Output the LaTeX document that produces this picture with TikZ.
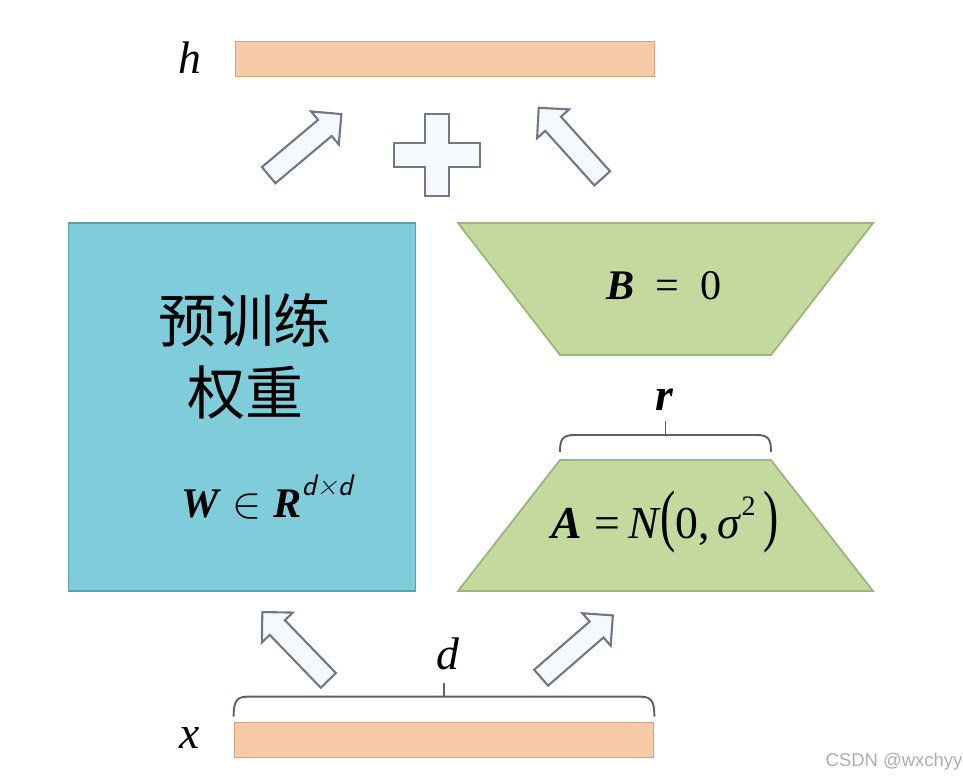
\documentclass[tikz,border=0pt]{standalone}
\usepackage{fontspec}
\setmainfont{Liberation Serif}
\newfontfamily\cjk{Noto Sans CJK SC}
\newfontfamily\wmfont{Liberation Sans}
\usepackage{amsmath}
\usetikzlibrary{positioning,calc,shapes.geometric,shapes.arrows}

\definecolor{peach}{HTML}{F8CBA8}
\definecolor{peachline}{HTML}{D6A07C}
\definecolor{pretrain}{HTML}{7FCCDB}
\definecolor{pretrainline}{HTML}{5C9FAE}
\definecolor{lora}{HTML}{C4D99E}
\definecolor{loraline}{HTML}{9BB47A}
\definecolor{arrowline}{HTML}{6E7888}
\definecolor{arrowfill}{HTML}{F6F9FC}

\begin{document}
\begin{tikzpicture}[
  x=0.02cm, y=-0.02cm,
  bar/.style={rectangle,draw=peachline,fill=peach,line width=1pt,
    minimum width=8.38cm,minimum height=0.7cm,inner sep=0pt},
  lowrank/.style={draw=loraline,fill=lora,line width=1pt,line join=miter},
  blockarrow/.style={single arrow,draw=arrowline,fill=arrowfill,line width=1.2pt,
    inner sep=0.19cm,single arrow head extend=0.22cm,minimum height=1.9cm},
  braceline/.style={draw=arrowline!80!black,line width=1.1pt},
  lbl/.style={font=\fontsize{26}{30}\selectfont\itshape,inner sep=1pt},
  eq/.style={font=\fontsize{24}{28}\selectfont,inner sep=1pt}
]
  \useasboundingbox (0,0) rectangle (963,781);

  % input and output vectors
  \node[bar] (h) at (445,59)  {};
  \node[bar] (x) at (444,740) {};
  \node[lbl] (hlab) at (190,58)  {h};
  \node[lbl] (xlab) at (190,738) {x};

  % frozen weights
  \node[rectangle,draw=pretrainline,fill=pretrain,line width=1pt,
        minimum width=6.94cm,minimum height=7.36cm] (W) at (242,407) {};
  \node[font=\cjk\fontsize{33}{41}\selectfont,align=center] (wtxt) at (245,356)
    {预训练\\权重};
  \node[eq] (weq) at (267,497)
    {\textbf{\textit{W}}\;$\in$\;\textbf{\textit{R}}\raisebox{0.5em}{\fontsize{17}{17}\selectfont\sffamily\itshape d×d}};

  % low-rank branch
  \coordinate (Btl) at (458,223); \coordinate (Btr) at (873,223);
  \coordinate (Bbr) at (771,355); \coordinate (Bbl) at (560,355);
  \coordinate (Atl) at (560,460); \coordinate (Atr) at (771,460);
  \coordinate (Abr) at (873,591); \coordinate (Abl) at (458,591);
  \draw[lowrank] (Btl) -- (Btr) -- (Bbr) -- (Bbl) -- cycle;
  \draw[lowrank] (Atl) -- (Atr) -- (Abr) -- (Abl) -- cycle;
  \node[eq] (B) at (664,286) {\textbf{\textit{B}}\enspace=\enspace0};
  \node[eq,font=\fontsize{26}{30}\selectfont] (A) at (665,522)
    {\textbf{\textit{A}}\;=\,\textit{N}\scalebox{1}[1.5]{(}0,\,\textit{σ}\raisebox{0.5em}{\fontsize{16}{16}\selectfont 2}\,\scalebox{1}[1.5]{)}};

  % braces
  \coordinate (rl) at ($(Atl)+(0,-8)$);
  \coordinate (rr) at ($(Atr)+(0,-8)$);
  \draw[braceline] (rl) .. controls ($(rl)+(0,-12)$) and ($(rl)+(2,-17)$) .. ($(rl)+(14,-17)$)
    -- ($(rr)+(-14,-17)$) .. controls ($(rr)+(-2,-17)$) and ($(rr)+(0,-12)$) .. (rr);
  \draw[braceline] ($(rl)!0.5!(rr)+(0,-17)$) -- ++(0,-14);
  \node[font=\fontsize{26}{30}\selectfont\bfseries\itshape] (rlab) at (664,400) {r};

  \coordinate (dl) at ($(x.north west)+(0,-5)$);
  \coordinate (dr) at ($(x.north east)+(0,-5)$);
  \draw[braceline] (dl) .. controls ($(dl)+(0,-14)$) and ($(dl)+(2,-20)$) .. ($(dl)+(14,-20)$)
    -- ($(dr)+(-14,-20)$) .. controls ($(dr)+(-2,-20)$) and ($(dr)+(0,-14)$) .. (dr);
  \draw[braceline] ($(dl)!0.5!(dr)+(0,-20)$) -- ++(0,-14);
  \node[lbl] (dlab) at (448,654) {d};

  % block arrows
  \node[blockarrow,rotate=134]  (xw) at (299,650) {};
  \node[blockarrow,rotate=41]   (xa) at (573,650) {};
  \node[blockarrow,rotate=40]   (wh) at (301,148) {};
  \node[blockarrow,rotate=132]  (bh) at (574,147) {};

  % sum
  \coordinate (plus) at (437,155);
  \draw[draw=arrowline,fill=arrowfill,line width=1.2pt]
    ($(plus)+(-12,-41)$) -- ++(24,0) -- ++(0,29) -- ++(31,0) -- ++(0,24)
    -- ++(-31,0) -- ++(0,29) -- ++(-24,0) -- ++(0,-29) -- ++(-31,0)
    -- ++(0,-24) -- ++(31,0) -- cycle;

  \node[font=\wmfont\fontsize{10.5}{12}\selectfont,text=black!32] (wm) at (894,762) {CSDN @wxchyy};
\end{tikzpicture}
\end{document}
